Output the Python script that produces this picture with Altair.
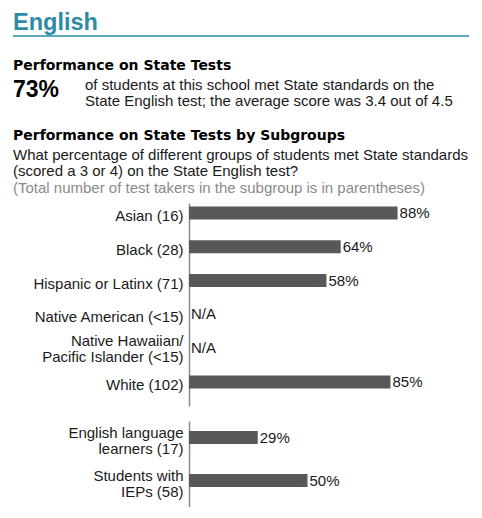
import altair as alt
import pandas as pd

# ---- text content ----
title_text = "English"
perf_heading = "Performance on State Tests"
overall_pct = "73%"
overall_lines = [
    "of students at this school met State standards on the",
    "State English test; the average score was 3.4 out of 4.5",
]
sub_heading = "Performance on State Tests by Subgroups"
question_lines = [
    "What percentage of different groups of students met State standards",
    "(scored a 3 or 4) on the State English test?",
]
note_line = "(Total number of test takers in the subgroup is in parentheses)"

# ---- data ----
groups_race = [
    "Asian (16)",
    "Black (28)",
    "Hispanic or Latinx (71)",
    "Native American (<15)",
    "Native Hawaiian/|Pacific Islander (<15)",
    "White (102)",
]
values_race = [88, 64, 58, None, None, 85]

groups_other = [
    "English language|learners (17)",
    "Students with|IEPs (58)",
]
values_other = [29, 50]

TEAL = "#2e8ba6"
BAR = "#585858"
DARK = "#1a1a1a"
FONT = "Liberation Sans"
HEAD_FONT = "DejaVu Sans"

# ---- header panel ----
base = alt.Chart(alt.Data(values=[{}]))


def txt(s, x, y, size, weight="normal", color=DARK, font=FONT):
    return base.mark_text(
        text=s, align="left", baseline="alphabetic", fontSize=size,
        fontWeight=weight, color=color, font=font,
    ).encode(x=alt.value(x), y=alt.value(y))


L = -176
header_layers = [
    txt(title_text, L, 19.5, 23.5, "bold", TEAL),
    base.mark_rule(color=TEAL, strokeWidth=1.3).encode(
        x=alt.value(L), x2=alt.value(280), y=alt.value(26)
    ),
    txt(perf_heading, L, 59.5, 14, "bold", "#000", HEAD_FONT),
    txt(overall_pct, L, 86.7, 23, "bold", "#000"),
    txt(overall_lines[0], -104, 79.7, 15),
    txt(overall_lines[1], -104, 96.4, 15),
    txt(sub_heading, L, 130, 14, "bold", "#000", HEAD_FONT),
    txt(question_lines[0], L, 149.7, 15),
    txt(question_lines[1], L, 166.4, 15),
    txt(note_line, L, 183.1, 15, "normal", "#8a8a8a"),
]
header = alt.layer(*header_layers).properties(width=280, height=178)


# ---- bar panels ----
def bar_panel(groups, values, height, bar_off, single_off, multi_off):
    df = pd.DataFrame({"group": groups, "value": values})
    df["value"] = df["value"].astype(object).where(df["value"].notna(), None)
    b = alt.Chart(df).transform_calculate(
        pos="isValid(datum.value) ? datum.value : 0",
        label="isValid(datum.value) ? datum.value + '%' : 'N/A'",
    )
    yenc = alt.Y(
        "group:N",
        sort=groups,
        scale=alt.Scale(paddingInner=0, paddingOuter=0),
        axis=alt.Axis(
            title=None, ticks=False, grid=False,
            domainColor="#8a8a8a", domainWidth=1.5,
            labelPadding=6, labelFontSize=15, labelFont=FONT,
            labelColor=DARK, labelLimit=300,
            labelExpr="split(datum.label, '|')", labelLineHeight=16,
            labelOffset={
                "condition": {
                    "test": "indexof(datum.value, '|') >= 0",
                    "value": multi_off,
                },
                "value": single_off,
            },
        ),
    )
    xenc = alt.X("pos:Q", scale=alt.Scale(domain=[0, 100]), axis=None)
    bars = b.mark_bar(color=BAR, size=13, yOffset=bar_off).encode(
        x=alt.X("value:Q", scale=alt.Scale(domain=[0, 100]), axis=None),
        y=yenc,
    )
    labels = b.mark_text(
        align="left", baseline="middle", dx=2, yOffset=bar_off,
        fontSize=15, font=FONT, color=DARK,
    ).encode(x=xenc, y=yenc, text="label:N")
    return alt.layer(bars, labels).properties(width=237, height=height)


panel_race = bar_panel(groups_race, values_race, 203, -7, -4, -14)
panel_other = bar_panel(groups_other, values_other, 86, -5, -1, -10)

chart = (
    alt.vconcat(header, panel_race, panel_other, spacing=15, bounds="flush")
    .properties(padding={"left": 4, "top": 2, "right": 0, "bottom": 0})
    .configure_view(stroke=None)
)

chart.save("out.html", embed_options={"renderer": "svg", "actions": False})
